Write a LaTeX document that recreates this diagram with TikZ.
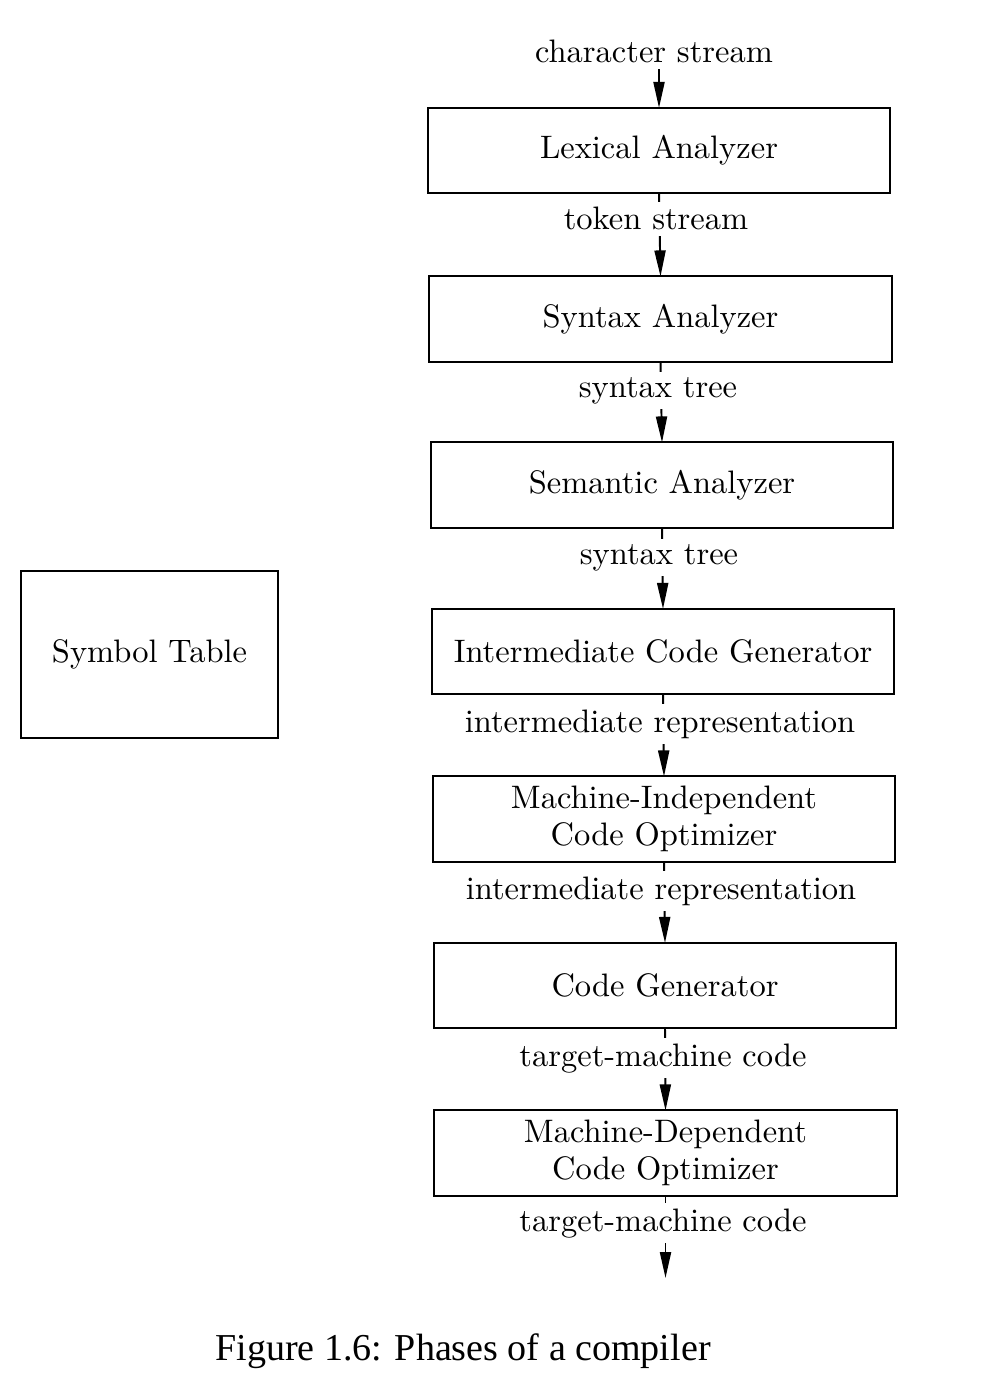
\documentclass[tikz,border=0pt]{standalone}
\usepackage{fontspec}
\newfontfamily\capfont{Liberation Serif}
\usetikzlibrary{arrows.meta,calc}
\begin{document}
\begin{tikzpicture}[x=0.3077pt,y=-0.3077pt,
  phase/.style={draw,line width=0.6pt,minimum width=142.2pt,minimum height=26.2pt,inner sep=0pt,outer sep=0pt,align=center,font=\fontsize{10}{11.4}\selectfont},
  lbl/.style={fill=white,inner xsep=1pt,inner ysep=1.6pt,anchor=base,font=\fontsize{10}{12}\selectfont},
  arr/.style={line width=0.6pt,-{Triangle[length=8pt,width=3.4pt]}}]
\useasboundingbox (0,0) rectangle (984,1394);
% phases
\node[phase] (lex) at (659,150.5) {Lexical Analyzer};
\node[phase] (syn) at (660.5,319) {Syntax Analyzer};
\node[phase] (sem) at (662,485) {Semantic Analyzer};
\node[phase] (icg) at (663,651.5) {Intermediate Code Generator};
\node[phase] (mi) at (664,819) {Machine-Independent\\Code Optimizer};
\node[phase] (cg) at (665,985.5) {Code Generator};
\node[phase] (md) at (665.5,1153) {Machine-Dependent\\Code Optimizer};
\node[draw,line width=0.6pt,minimum width=79.1pt,minimum height=51.4pt,inner sep=0pt,font=\fontsize{10}{12}\selectfont] (sym) at (149.5,654.5) {Symbol Table};
% input
\node[lbl] (in) at (654,63) {character stream};
\draw[arr] (lex.north |- in.south) -- (lex.north);
% connectors
\draw[arr] (lex.south) -- (syn.north);
\draw[arr] (syn.south) -- (sem.north);
\draw[arr] (sem.south) -- (icg.north);
\draw[arr] (icg.south) -- (mi.north);
\draw[arr] (mi.south) -- (cg.north);
\draw[arr] (cg.south) -- (md.north);
\coordinate (out) at (665.5,1278);
\draw[arr] (md.south) -- (out);
% labels
\node[lbl] (l1) at (656,230) {token stream};
\node[lbl] (l2) at (658,397) {syntax tree};
\node[lbl] (l3) at (659,564) {syntax tree};
\node[lbl] (l4) at (660,732) {intermediate representation};
\node[lbl] (l5) at (661,899) {intermediate representation};
\node[lbl] (l6) at (663,1066) {target-machine code};
\node[lbl] (l7) at (663,1231) {target-machine code};
% caption
\node[anchor=base,inner sep=0pt,font=\capfont\fontsize{11.7}{14}\selectfont] (cap) at (463,1360) {Figure 1.6: Phases of a compiler};
\end{tikzpicture}
\end{document}
